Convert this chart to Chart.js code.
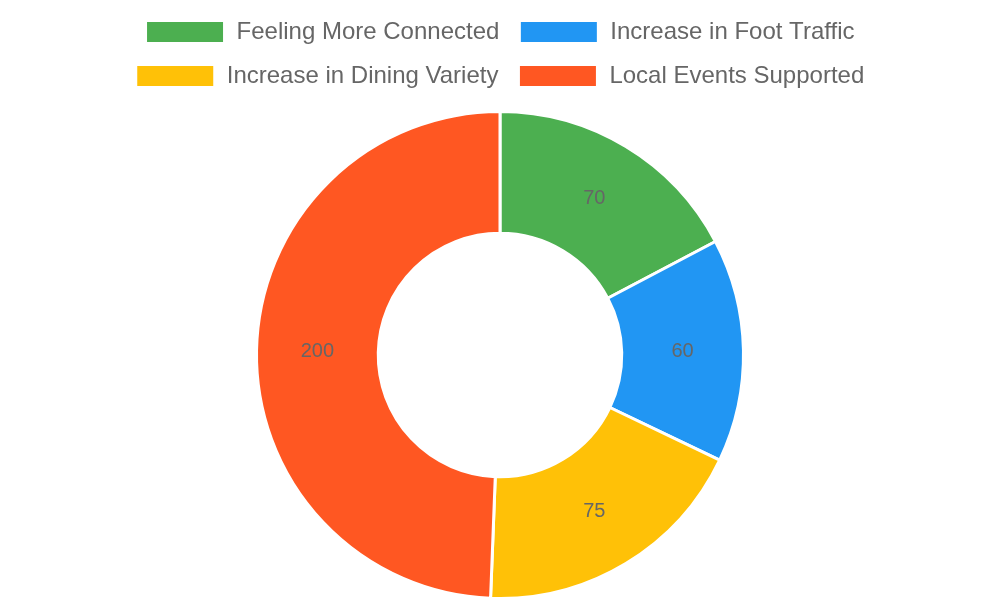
<!DOCTYPE html>
<html>
<head>
<meta charset="utf-8">
<script src="https://cdn.jsdelivr.net/npm/chart.js@4"></script>
<style>
html,body{margin:0;padding:0;background:#fff;}
#wrap{width:1000px;height:600px;}
</style>
</head>
<body>
<div id="wrap"><canvas id="c"></canvas></div>
<script>
const labels = ["Feeling More Connected", "Increase in Foot Traffic", "Increase in Dining Variety", "Local Events Supported"];
const values = [70, 60, 75, 200];
const colors = ["#4CAF50", "#2196F3", "#FFC107", "#FF5722"];

const arcLabels = {
  id: 'arcLabels',
  afterDatasetsDraw(chart) {
    const ctx = chart.ctx;
    const meta = chart.getDatasetMeta(0);
    ctx.save();
    ctx.font = '20px "Liberation Sans", Arial, sans-serif';
    ctx.fillStyle = '#666';
    ctx.textAlign = 'center';
    ctx.textBaseline = 'middle';
    meta.data.forEach((arc, i) => {
      const p = arc.tooltipPosition();
      ctx.fillText(String(chart.data.datasets[0].data[i]), p.x, p.y);
    });
    ctx.restore();
  }
};

const legendSpacing = {
  id: 'legendSpacing',
  beforeInit(chart) {
    if (!chart.legend) return;
    const origFit = chart.legend.fit;
    chart.legend.fit = function () {
      origFit.call(this);
      this.height += 12;
    };
  }
};

new Chart(document.getElementById('c'), {
  type: 'doughnut',
  data: {
    labels: labels,
    datasets: [{
      data: values,
      backgroundColor: colors,
      borderColor: '#fff',
      borderWidth: 3
    }]
  },
  options: {
    responsive: true,
    maintainAspectRatio: false,
    animation: false,
    cutout: '50%',
    layout: { padding: 0 },
    plugins: {
      legend: {
        position: 'top',
        labels: {
          font: { size: 24, family: '"Liberation Sans", Arial, sans-serif' },
          color: '#666',
          boxWidth: 79,
          boxHeight: 23,
          padding: 20
        }
      },
      tooltip: { enabled: false }
    }
  },
  plugins: [arcLabels, legendSpacing]
});
</script>
</body>
</html>
